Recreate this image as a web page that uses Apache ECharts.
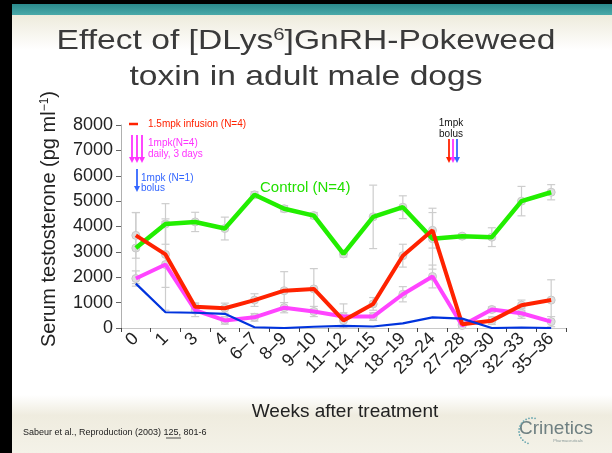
<!DOCTYPE html>
<html>
<head>
<meta charset="utf-8">
<script src="https://cdn.jsdelivr.net/npm/echarts@6/dist/echarts.min.js"></script>
<style>
html,body{margin:0;padding:0;background:#fff;}
#chart{width:612px;height:453px;}
</style>
</head>
<body>
<div id="chart"></div>
<script>
// ---- data ----
var weeks = ['0','1','3','4','6–7','8–9','9–10','11–12','14–15','18–19','23–24','27–28','29–30','32–33','35–36'];
var yTicks = [0, 1000, 2000, 3000, 4000, 5000, 6000, 7000, 8000];
var control = [3150, 4100, 4180, 3920, 5250, 4700, 4430, 2920, 4380, 4760, 3520, 3620, 3580, 5000, 5350];
var infusion = [3650, 2900, 840, 780, 1100, 1470, 1540, 300, 950, 2850, 3850, 150, 290, 900, 1100];
var daily = [1950, 2500, 700, 300, 420, 800, 650, 450, 450, 1330, 2030, 100, 730, 580, 250];
var bolus = [1750, 620, 600, 560, 30, 0, 50, 80, 60, 180, 420, 370, 0, 20, 0];
var controlErr = [1400, 800, 380, 450, 120, 120, 120, 120, 1250, 450, 1200, 100, 370, 580, 300];
var infusionErr = [900, 1300, 150, 200, 250, 750, 800, 650, 250, 450, 700, 100, 150, 200, 800];
var dailyErr = [300, 1800, 250, 150, 150, 200, 200, 150, 150, 300, 450, 100, 100, 200, 200];

var chart = echarts.init(document.getElementById('chart'));
var FONT = 'Liberation Sans, Arial, sans-serif';

function errSeries(mean, err) {
  var d = mean.map(function (v, i) { return [i, v, err[i]]; });
  return {
    type: 'custom',
    z: 1,
    silent: true,
    data: d,
    renderItem: function (params, api) {
      var i = api.value(0), m = api.value(1), e = api.value(2);
      var lo = Math.max(0, m - e), hi = m + e;
      var p0 = api.coord([i, lo]), p1 = api.coord([i, hi]), pm = api.coord([i, m]);
      var st = { stroke: '#cdcdcd', lineWidth: 1.2, fill: null };
      return {
        type: 'group',
        children: [
          { type: 'line', shape: { x1: p0[0], y1: p0[1], x2: p1[0], y2: p1[1] }, style: st },
          { type: 'line', shape: { x1: p0[0] - 4, y1: p0[1], x2: p0[0] + 4, y2: p0[1] }, style: st },
          { type: 'line', shape: { x1: p1[0] - 4, y1: p1[1], x2: p1[0] + 4, y2: p1[1] }, style: st },
          { type: 'circle', shape: { cx: pm[0], cy: pm[1], r: 4 }, style: { fill: '#dedede', stroke: '#c8c8c8', lineWidth: 1 } }
        ]
      };
    }
  };
}

function lineSeries(name, data, color, width, z) {
  return {
    name: name, type: 'line', data: data, symbol: 'none', z: z,
    lineStyle: { color: color, width: width },
    itemStyle: { color: color },
    animation: false
  };
}

function arrow(x, y1, y2, color) {
  return {
    type: 'group',
    children: [
      { type: 'line', shape: { x1: x, y1: y1, x2: x, y2: y2 - 5 }, style: { stroke: color, lineWidth: 1.8 } },
      { type: 'polygon', shape: { points: [[x - 3, y2 - 6], [x + 3, y2 - 6], [x, y2]] }, style: { fill: color } }
    ]
  };
}

function txt(x, y, s, color, size, align) {
  return { type: 'text', x: x, y: y, style: { text: s, fill: color, font: size + 'px ' + FONT, textAlign: align || 'left', textVerticalAlign: 'middle' } };
}

var graphics = [
  // background decorations
  { type: 'rect', z: -10, shape: { x: 0, y: 15, width: 612, height: 35 },
    style: { fill: new echarts.graphic.LinearGradient(0, 0, 0, 1, [{ offset: 0, color: '#eeebdc' }, { offset: 1, color: '#ffffff' }]) } },
  { type: 'rect', z: -10, shape: { x: 0, y: 395, width: 612, height: 58 },
    style: { fill: new echarts.graphic.LinearGradient(0, 0, 0, 1, [{ offset: 0, color: '#ffffff' }, { offset: 0.35, color: '#efecdf' }, { offset: 1, color: '#f4f2e8' }]) } },
  { type: 'rect', z: -9, shape: { x: 0, y: 4, width: 612, height: 11 },
    style: { fill: new echarts.graphic.LinearGradient(0, 0, 0, 1, [{ offset: 0, color: '#2a8a8c' }, { offset: 1, color: '#4aa9a9' }]) } },
  { type: 'rect', z: -8, shape: { x: 0, y: 0, width: 612, height: 4 }, style: { fill: '#000' } },
  { type: 'rect', z: -8, shape: { x: 0, y: 0, width: 12, height: 453 }, style: { fill: '#000' } },
  // title
  { type: 'text', x: 306, y: 41, scaleX: 1.2,
    style: { text: '{a|Effect of [DLys}{s|6}{a|]GnRH-Pokeweed}', textAlign: 'center', textVerticalAlign: 'middle',
      rich: { a: { font: '28px ' + FONT, fill: '#3a3a3a' }, s: { font: '17px ' + FONT, fill: '#3a3a3a', verticalAlign: 'top', padding: [0, 0, 10, 0] } } } },
  { type: 'text', x: 306, y: 77, scaleX: 1.2,
    style: { text: 'toxin in adult male dogs', fill: '#3a3a3a', font: '28px ' + FONT, textAlign: 'center', textVerticalAlign: 'middle' } },
  // y-axis title
  { type: 'text', x: 49, y: 219, rotation: Math.PI / 2,
    style: { text: '{a|Serum testosterone (pg ml}{s|−1}{a|)}', textAlign: 'center', textVerticalAlign: 'middle',
      rich: { a: { font: '20px ' + FONT, fill: '#222' }, s: { font: '12px ' + FONT, fill: '#222', verticalAlign: 'top', padding: [0, 0, 8, 0] } } } },
  // x-axis title
  txt(345, 412, 'Weeks after treatment', '#222', 19, 'center'),
  // annotations left
  { type: 'line', shape: { x1: 129, y1: 124, x2: 138, y2: 124 }, style: { stroke: '#ff2200', lineWidth: 2.5 } },
  txt(148, 124, '1.5mpk infusion (N=4)', '#ff2200', 10),
  arrow(132, 135, 163, '#ff33ff'),
  arrow(137, 135, 163, '#ff33ff'),
  arrow(142, 135, 163, '#ff33ff'),
  txt(148, 143, '1mpk(N=4)', '#ff33ff', 10),
  txt(148, 154, 'daily, 3 days', '#ff33ff', 10),
  arrow(137, 169, 192, '#3366ff'),
  txt(141, 178, '1mpk (N=1)', '#3366ff', 10),
  txt(141, 188, 'bolus', '#3366ff', 10),
  txt(260, 188, 'Control (N=4)', '#22e000', 15),
  // annotations right
  txt(451, 123, '1mpk', '#111', 10, 'center'),
  txt(451, 134, 'bolus', '#111', 10, 'center'),
  arrow(449, 139, 163, '#ff2200'),
  arrow(453, 139, 163, '#ff33ff'),
  arrow(457, 139, 163, '#3366ff'),
  // citation
  { type: 'text', x: 23, y: 433,
    style: { text: 'Sabeur et al., Reproduction (2003) 125, 801-6', fill: '#222', font: '9px ' + FONT, textVerticalAlign: 'middle' } },
  { type: 'line', shape: { x1: 166, y1: 438, x2: 181, y2: 438 }, style: { stroke: '#222', lineWidth: 0.8 } },
  // logo
  txt(519, 429, 'Crinetics', '#6f8082', 19),
  txt(568, 441, 'Pharmaceuticals', '#8a9a9a', 4, 'center')
];
// logo dots arc
for (var k = 0; k < 14; k++) {
  var ang = Math.PI * (0.6 + k * 0.075);
  graphics.push({ type: 'circle', shape: { cx: 532 + 13 * Math.cos(ang), cy: 431 + 13 * Math.sin(ang), r: 0.9 }, style: { fill: '#6aa7b0' } });
}

var option = {
  backgroundColor: '#ffffff',
  animation: false,
  grid: { left: 121, right: 46, top: 125, bottom: 125, containLabel: false },
  xAxis: {
    type: 'category',
    data: weeks,
    boundaryGap: true,
    axisLine: { lineStyle: { color: '#c8c8c8', width: 1 } },
    axisTick: { show: true, length: 4, lineStyle: { color: '#444' } },
    axisLabel: { interval: 0, rotate: 45, fontSize: 18, fontFamily: FONT, color: '#222', margin: 8 },
    splitLine: { show: false }
  },
  yAxis: {
    type: 'value',
    min: yTicks[0], max: yTicks[yTicks.length - 1], interval: 1000,
    axisLine: { show: true, lineStyle: { color: '#b0b0b0', width: 1 } },
    axisTick: { show: true, length: 5, lineStyle: { color: '#666' } },
    axisLabel: { fontSize: 18, fontFamily: FONT, color: '#222', margin: 8, formatter: function (v) { return String(v); } },
    splitLine: { show: false }
  },
  series: [
    errSeries(control, controlErr),
    errSeries(infusion, infusionErr),
    errSeries(daily, dailyErr),
    lineSeries('Control (N=4)', control, '#22ee00', 4.5, 3),
    lineSeries('1mpk(N=4) daily, 3 days', daily, '#ff44ff', 4, 4),
    lineSeries('1.5mpk infusion (N=4)', infusion, '#ff2200', 4, 5),
    lineSeries('1mpk (N=1) bolus', bolus, '#0033dd', 2.2, 6)
  ],
  graphic: graphics
};
chart.setOption(option);
</script>
</body>
</html>
